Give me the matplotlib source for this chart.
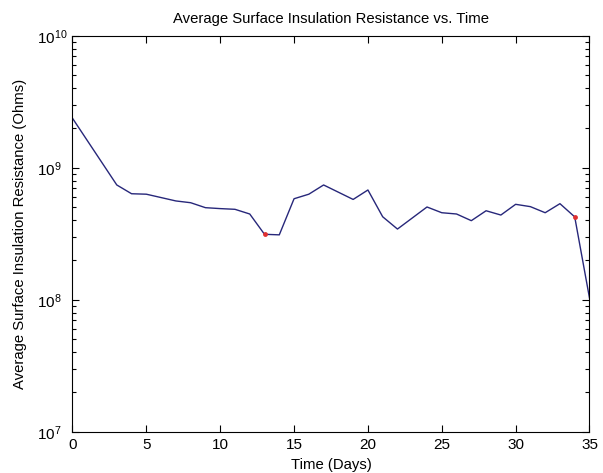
import math
import matplotlib
matplotlib.use("Agg")
import matplotlib.pyplot as plt
from matplotlib.ticker import FixedLocator, FuncFormatter, LogLocator, NullFormatter

# values
days = [0, 3, 4, 5, 7, 8, 9, 10, 11, 12, 13, 14, 15, 16, 17, 19, 20, 21, 22,
        24, 25, 26, 27, 28, 29, 30, 31, 32, 33, 34, 35]
resistance = [2.37e9, 7.4e8, 6.35e8, 6.3e8, 5.6e8, 5.43e8, 4.98e8, 4.9e8, 4.84e8,
              4.46e8, 3.13e8, 3.1e8, 5.82e8, 6.3e8, 7.4e8, 5.75e8, 6.78e8, 4.25e8,
              3.43e8, 5.04e8, 4.56e8, 4.46e8, 3.97e8, 4.72e8, 4.38e8, 5.28e8,
              5.07e8, 4.56e8, 5.34e8, 4.24e8, 1.03e8]
marked_days = [13, 34]
marked_vals = [3.13e8, 4.24e8]
x_ticks = [0, 5, 10, 15, 20, 25, 30, 35]

plt.rcParams['font.family'] = ['Liberation Sans', 'DejaVu Sans']

fig = plt.figure(figsize=(6.03, 4.73), dpi=100)
ax = fig.add_axes([0.1202, 0.0873, 0.8574, 0.8372])

ax.plot(days, resistance, color='#27277a', linewidth=1.0)
ax.plot(marked_days, marked_vals, 'o', color='#e03030', markersize=3.5,
        markeredgewidth=0)

ax.set_yscale('log')
ax.set_xlim(0, 35)
ax.set_ylim(1e7, 1e10)
ax.xaxis.set_major_locator(FixedLocator(x_ticks))
ax.yaxis.set_major_locator(LogLocator(base=10, numticks=10))
ax.yaxis.set_minor_locator(LogLocator(base=10, subs=range(2, 10), numticks=10))
ax.yaxis.set_minor_formatter(NullFormatter())
ax.yaxis.set_major_formatter(FuncFormatter(
    lambda v, p: r'$\mathregular{10^{%d}}$' % round(math.log10(v))))

ax.tick_params(which='both', direction='in', top=True, right=True, colors='black')
ax.tick_params(which='major', length=5, width=0.8, labelsize=11)
ax.tick_params(which='minor', length=3, width=0.8)
ax.tick_params(axis='x', pad=4.5)
# MATLAB lines up the "10" bases, not the right edges
ax.tick_params(axis='y', pad=25.5)
for lab in ax.get_yticklabels():
    lab.set_horizontalalignment('left')
for s in ax.spines.values():
    s.set_linewidth(0.8)

ax.set_title('Average Surface Insulation Resistance vs. Time', fontsize=10.7, pad=8.9)
ax.set_xlabel('Time (Days)', fontsize=10.7)
ax.set_ylabel('Average Surface Insulation Resistance (Ohms)', fontsize=10.7)
ax.xaxis.set_label_coords(0.5, -0.067)
ax.yaxis.set_label_coords(-0.088, 0.5)

fig.savefig('out.png', dpi=100)
